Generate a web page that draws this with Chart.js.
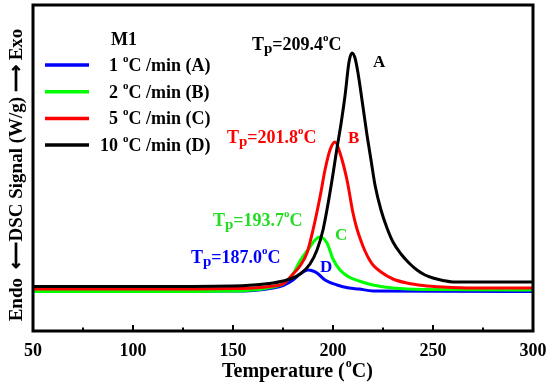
<!DOCTYPE html>
<html>
<head>
<meta charset="utf-8">
<script src="https://cdn.jsdelivr.net/npm/chart.js@4.4.1/dist/chart.umd.min.js"></script>
<style>
  html, body { margin: 0; padding: 0; background: #fff; }
  #wrap { width: 550px; height: 385px; }
</style>
</head>
<body>
<div id="wrap"><canvas id="dsc"></canvas></div>
<script>
// --- DATA ---
const tempA = [50, 150, 160, 170, 175, 180, 183.5, 187.5, 190, 192, 196, 202, 208, 213, 220, 300];
const sigA  = [4.0, 4.0, 4.05, 4.3, 4.55, 5.1, 5.7, 6.1, 6.0, 5.8, 5.1, 4.6, 4.3, 4.2, 4.0, 3.95];

const tempB = [50, 100, 150, 160, 170, 175, 180, 183.5, 188.5, 191, 193.5, 197, 200, 203.5, 208, 213, 220, 230, 245, 300];
const sigB  = [3.95, 3.95, 4.0, 4.1, 4.4, 4.7, 5.7, 7.0, 8.4, 9.1, 9.4, 8.8, 7.2, 6.1, 5.4, 5.0, 4.6, 4.3, 4.15, 4.1];

const tempC = [50, 100, 150, 160, 170, 175, 180, 183.5, 187, 190, 193.5, 196, 198.5, 201, 203.5, 207, 210, 212, 214, 216, 218, 220, 224, 230, 237, 245, 255, 270, 300];
const sigC  = [4.2, 4.2, 4.25, 4.3, 4.5, 4.7, 5.7, 6.5, 7.8, 10.1, 13.4, 16.1, 18.1, 18.9, 17.8, 15.1, 11.8, 10.2, 9.0, 8.0, 7.2, 6.6, 5.9, 5.2, 4.8, 4.55, 4.4, 4.3, 4.3];

const tempD = [50, 100, 150, 160, 170, 175, 180, 183.5, 188.5, 192, 195, 197.5, 200, 202, 204, 206, 208, 209.5, 211, 212.5, 215, 217, 219, 221, 224, 227, 230, 234, 238, 242, 246, 250, 255, 260, 300];
const sigD  = [4.45, 4.45, 4.5, 4.6, 4.8, 5.0, 5.3, 5.7, 6.7, 8.1, 10.1, 12.7, 15.7, 18.3, 20.7, 23.5, 26.9, 27.8, 27.3, 25.8, 22.4, 19.6, 17.1, 14.6, 12.1, 10.3, 8.9, 7.7, 6.8, 6.1, 5.6, 5.3, 5.05, 4.9, 4.9];

const rates   = ['1', '2', '5', '10'];
const letters = ['A', 'B', 'C', 'D'];
const peakLetters = ['D', 'C', 'B', 'A'];
const peakLabels = ['187.0', '193.7', '201.8', '209.4'];
const xTicks = [50, 100, 150, 200, 250, 300];

// --- STYLE ---
const FONT = '"Liberation Serif", "Times New Roman", serif';
const lineColors = ['#0000ff', '#00ff00', '#ff0000', '#000000'];
const textColors = ['#0000ff', '#22dd22', '#ff0000', '#000000'];

// label anchors in data units (°C, signal)
const tpAnchors  = [[129, 6.8], [140, 10.5], [147, 18.8], [159.5, 28.1]];
const letAnchors = [[193.5, 5.9], [201, 9.1], [207.5, 18.8], [220, 26.4]];

const toPoints = (t, s) => t.map((x, i) => ({ x: x, y: s[i] }));
const series = [toPoints(tempA, sigA), toPoints(tempB, sigB), toPoints(tempC, sigC), toPoints(tempD, sigD)];

function drawDegC(ctx, x, y, size, color) {
  // superscript "o" then "C"
  ctx.fillStyle = color;
  ctx.textAlign = 'left';
  ctx.font = `bold ${Math.round(size * 0.62)}px ${FONT}`;
  ctx.fillText('o', x, y - size * 0.5);
  const ow = ctx.measureText('o').width;
  ctx.font = `bold ${size}px ${FONT}`;
  ctx.fillText('C', x + ow, y);
  return x + ow + ctx.measureText('C').width;
}

function drawTp(ctx, x, y, val, color) {
  ctx.fillStyle = color;
  ctx.textAlign = 'left';
  ctx.font = `bold 18px ${FONT}`;
  ctx.fillText('T', x, y);
  x += ctx.measureText('T').width;
  ctx.font = `bold 15px ${FONT}`;
  ctx.fillText('p', x, y + 3);
  x += ctx.measureText('p').width;
  ctx.font = `bold 18px ${FONT}`;
  ctx.fillText('=' + val, x, y);
  x += ctx.measureText('=' + val).width;
  drawDegC(ctx, x, y, 18, color);
}

const decor = {
  id: 'decor',
  beforeDraw(chart) {
    const ctx = chart.ctx;
    ctx.save();
    ctx.fillStyle = '#fff';
    ctx.fillRect(0, 0, chart.width, chart.height);
    ctx.restore();
  },
  afterDatasetsDraw(chart) {
    const ctx = chart.ctx;
    const a = chart.chartArea;
    const xs = chart.scales.x, ys = chart.scales.y;
    ctx.save();

    // frame
    ctx.strokeStyle = '#000';
    ctx.lineWidth = 3;
    ctx.strokeRect(a.left, a.top, a.right - a.left, a.bottom - a.top);

    // inward ticks, major + minor
    ctx.lineWidth = 2;
    const vals = xs.ticks.map(t => t.value);
    vals.forEach((v, i) => {
      const px = xs.getPixelForValue(v);
      ctx.beginPath(); ctx.moveTo(px, a.bottom); ctx.lineTo(px, a.bottom - 6); ctx.stroke();
      if (i < vals.length - 1) {
        const pm = xs.getPixelForValue((v + vals[i + 1]) / 2);
        ctx.beginPath(); ctx.moveTo(pm, a.bottom); ctx.lineTo(pm, a.bottom - 3.5); ctx.stroke();
      }
    });

    // legend
    ctx.textBaseline = 'alphabetic';
    ctx.fillStyle = '#000';
    ctx.font = `bold 18px ${FONT}`;
    ctx.textAlign = 'left';
    ctx.fillText('M1', 111, 45);
    rates.forEach((r, i) => {
      const y = 65 + i * 26.7;
      ctx.strokeStyle = lineColors[i];
      ctx.lineWidth = 3.5;
      ctx.beginPath(); ctx.moveTo(45, y); ctx.lineTo(89, y); ctx.stroke();
      ctx.fillStyle = '#000';
      ctx.font = `bold 18px ${FONT}`;
      ctx.textAlign = 'right';
      ctx.fillText(r, 118, y + 6);
      const x2 = drawDegC(ctx, 123, y + 6, 18, '#000');
      ctx.font = `bold 18px ${FONT}`;
      ctx.textAlign = 'left';
      ctx.fillText(' /min (' + letters[i] + ')', x2, y + 6);
    });

    // peak labels
    peakLabels.forEach((p, i) => {
      drawTp(ctx, xs.getPixelForValue(tpAnchors[i][0]), ys.getPixelForValue(tpAnchors[i][1]), p, textColors[i]);
      ctx.fillStyle = textColors[i];
      ctx.font = `bold 17px ${FONT}`;
      ctx.textAlign = 'left';
      ctx.fillText(peakLetters[i], xs.getPixelForValue(letAnchors[i][0]), ys.getPixelForValue(letAnchors[i][1]));
    });

    // x title
    ctx.fillStyle = '#000';
    ctx.font = `bold 20px ${FONT}`;
    const t1 = 'Temperature (';
    const w1 = ctx.measureText(t1).width;
    const tx = 222;
    ctx.textAlign = 'left';
    ctx.fillText(t1, tx, 377);
    const xe = drawDegC(ctx, tx + w1 + 1, 377, 20, '#000');
    ctx.font = `bold 20px ${FONT}`;
    ctx.fillText(')', xe, 377);

    // y title
    ctx.translate(17, 175);
    ctx.rotate(-Math.PI / 2);
    ctx.textAlign = 'center';
    ctx.textBaseline = 'middle';
    ctx.font = `bold 19px ${FONT}`;
    ctx.fillText('Endo  \u27F5DSC Signal (W/g) \u27F6 Exo', 0, 0);
    ctx.restore();
  }
};

new Chart(document.getElementById('dsc'), {
  type: 'line',
  data: {
    datasets: series.map((pts, i) => ({
      label: rates[i] + ' °C /min (' + letters[i] + ')',
      data: pts,
      borderColor: lineColors[i],
      borderWidth: 3,
      pointRadius: 0,
      fill: false,
      cubicInterpolationMode: 'monotone',
      order: 4 - i
    }))
  },
  options: {
    responsive: true,
    maintainAspectRatio: false,
    animation: false,
    layout: { padding: { left: 33, right: 17, top: 5, bottom: 0 } },
    plugins: { legend: { display: false }, tooltip: { enabled: false } },
    scales: {
      x: {
        type: 'linear',
        min: 50, max: 300,
        afterBuildTicks: (axis) => { axis.ticks = xTicks.map(v => ({ value: v })); },
        afterFit: (axis) => { axis.height = 54; axis.paddingLeft = 0; axis.paddingRight = 0; },
        grid: { display: false, drawTicks: false },
        border: { display: false },
        ticks: { color: '#000', padding: 10, maxRotation: 0, font: { family: FONT, size: 18, weight: 'bold' } }
      },
      y: {
        display: false,
        min: 0, max: 32.6
      }
    }
  },
  plugins: [decor]
});
</script>
</body>
</html>
